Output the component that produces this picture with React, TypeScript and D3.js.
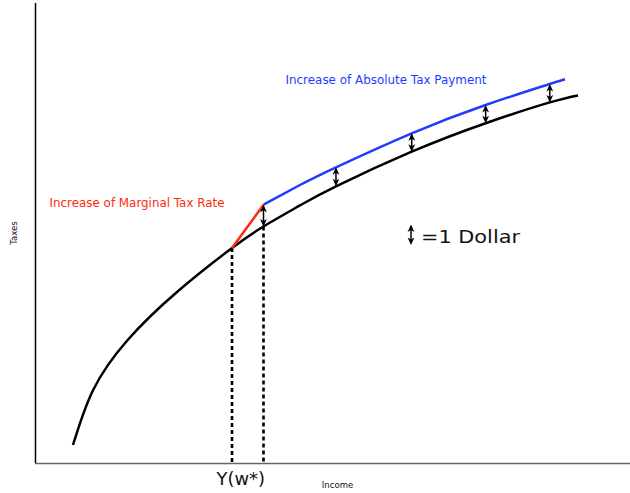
import React from "react";
import * as d3 from "d3";

// Black curve: tax schedule before the change (income, taxes)
const baseIncome = [6.23, 9.6, 15.32, 23.74, 33.0, 38.3, 44.44, 50.5, 63.25, 75.7, 86.5, 91.25];
const baseTax = [3.93, 15.9, 26.7, 37.35, 46.94, 51.64, 56.24, 60.41, 67.97, 74.19, 78.73, 80.26];

// Blue curve: schedule after the change (shifted by one dollar)
const shiftedIncome = [38.3, 44.44, 50.5, 63.25, 75.7, 86.5, 89.06];
const shiftedTax = [56.4, 60.7, 64.56, 71.99, 78.17, 82.75, 83.78];

// Red segment: increase of marginal tax rate
const marginalIncome = [33.0, 38.3];
const marginalTax = [46.94, 56.4];

// Arrows (one dollar) at these incomes
const arrowIncome = [38.3, 50.5, 63.25, 75.7, 86.5];

// Dotted reference lines
const wStarIncome = 33.0;
const kinkIncome = 38.3;

const W = 630;
const H = 493;

const FONT = "'DejaVu Sans', sans-serif";

function lookup(xs: number[], ys: number[], v: number) {
  const i = xs.findIndex((d) => Math.abs(d - v) < 1e-6);
  return ys[i];
}

function Arrow({ x, y1, y2 }: { x: number; y1: number; y2: number }) {
  const hw = 3.4;
  const hl = 7.5;
  return (
    <g>
      <line x1={x} x2={x} y1={y1 + 2} y2={y2 - 2} stroke="#000" strokeWidth={1.5} />
      <path d={`M${x},${y1} L${x + hw},${y1 + hl} L${x},${y1 + hl - 2} L${x - hw},${y1 + hl} Z`} fill="#000" />
      <path d={`M${x},${y2} L${x + hw},${y2 - hl} L${x},${y2 - hl + 2} L${x - hw},${y2 - hl} Z`} fill="#000" />
    </g>
  );
}

export default function App() {
  const x = d3.scaleLinear().domain([0, 100]).range([36, 630]);
  const y = d3.scaleLinear().domain([0, 100]).range([463, 5]);

  const base = baseIncome.map((v, i) => [v, baseTax[i]] as [number, number]);
  const shifted = shiftedIncome.map((v, i) => [v, shiftedTax[i]] as [number, number]);
  const marginal = marginalIncome.map((v, i) => [v, marginalTax[i]] as [number, number]);

  const curve = d3
    .line<[number, number]>()
    .x((d) => x(d[0]))
    .y((d) => y(d[1]))
    .curve(d3.curveNatural);
  const straight = d3
    .line<[number, number]>()
    .x((d) => x(d[0]))
    .y((d) => y(d[1]));

  return (
    <svg
      width={W}
      height={H}
      style={{ position: "absolute", left: 0, top: 0, display: "block", background: "#fff" }}
    >
      {/* axes */}
      <line x1={35.5} x2={35.5} y1={3} y2={y(0)} stroke="#000" strokeWidth={1.5} />
      <line x1={35} x2={630} y1={463.5} y2={463.5} stroke="#666" strokeWidth={1.6} />

      {/* dotted lines */}
      <line
        x1={x(wStarIncome)}
        x2={x(wStarIncome)}
        y1={y(lookup(baseIncome, baseTax, wStarIncome))}
        y2={y(0)}
        stroke="#000"
        strokeWidth={2.6}
        strokeDasharray="4,3"
      />
      <line
        x1={x(kinkIncome)}
        x2={x(kinkIncome)}
        y1={y(lookup(baseIncome, baseTax, kinkIncome))}
        y2={y(0)}
        stroke="#000"
        strokeWidth={2.6}
        strokeDasharray="4,3"
      />

      {/* curves */}
      <path d={curve(base) || ""} fill="none" stroke="#000" strokeWidth={2.5} />
      <path d={curve(shifted) || ""} fill="none" stroke="#1f3cff" strokeWidth={2.5} />
      <path d={straight(marginal) || ""} fill="none" stroke="#ff2a10" strokeWidth={2.5} />

      {/* dollar arrows */}
      {arrowIncome.map((v) => (
        <Arrow
          key={v}
          x={x(v)}
          y1={y(lookup(shiftedIncome, shiftedTax, v))}
          y2={y(lookup(baseIncome, baseTax, v))}
        />
      ))}

      {/* legend arrow */}
      <Arrow x={411} y1={224.5} y2={245} />
      <text x={421} y={243} fontFamily={FONT} fontSize={17} textLength={99} lengthAdjust="spacingAndGlyphs" fill="#111">
        =1 Dollar
      </text>

      {/* annotations */}
      <text x={285.5} y={83.5} fontFamily={FONT} fontSize={11.5} textLength={201} lengthAdjust="spacingAndGlyphs" fill="#1f3cff">
        Increase of Absolute Tax Payment
      </text>
      <text x={49.5} y={206.5} fontFamily={FONT} fontSize={11.5} textLength={175} lengthAdjust="spacingAndGlyphs" fill="#ff2a10">
        Increase of Marginal Tax Rate
      </text>

      {/* axis labels */}
      <text x={216.5} y={485} fontFamily={FONT} fontSize={18} textLength={48.5} lengthAdjust="spacingAndGlyphs" fill="#111">
        Y(w*)
      </text>
      <text x={337.5} y={488} textAnchor="middle" fontFamily={FONT} fontSize={8.5} fill="#111">
        Income
      </text>
      <text
        transform="translate(16.5,233) rotate(-90)"
        textAnchor="middle"
        fontFamily={FONT}
        fontSize={8.5}
        fill="#111"
      >
        Taxes
      </text>
    </svg>
  );
}
